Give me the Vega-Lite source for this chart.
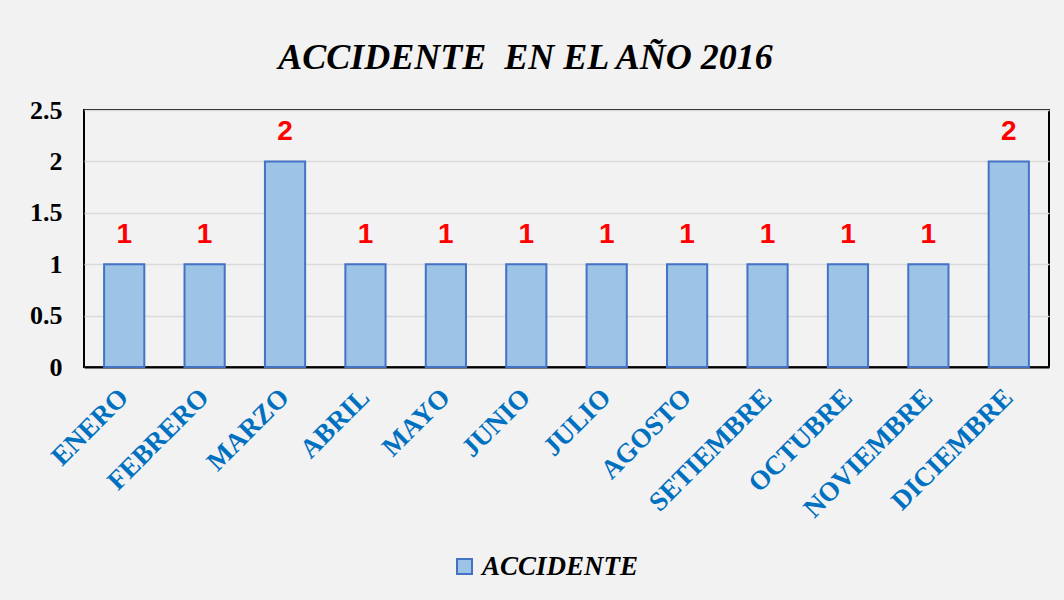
{
  "$schema": "https://vega.github.io/schema/vega-lite/v6.json",
  "width": 965,
  "height": 257,
  "autosize": {"type": "none"},
  "padding": {"left": 84, "top": 110, "right": 15, "bottom": 233},
  "background": "#f2f2f2",
  "title": {
    "text": "ACCIDENTE\u00a0 EN EL AÑO 2016",
    "font": "Liberation Serif",
    "fontSize": 36,
    "fontWeight": "bold",
    "fontStyle": "italic",
    "color": "#000000",
    "anchor": "middle",
    "dx": -41,
    "baseline": "alphabetic",
    "offset": -8
  },
  "data": {
    "values": [
      {"mes": "ENERO", "valor": 1, "serie": "ACCIDENTE"},
      {"mes": "FEBRERO", "valor": 1, "serie": "ACCIDENTE"},
      {"mes": "MARZO", "valor": 2, "serie": "ACCIDENTE"},
      {"mes": "ABRIL", "valor": 1, "serie": "ACCIDENTE"},
      {"mes": "MAYO", "valor": 1, "serie": "ACCIDENTE"},
      {"mes": "JUNIO", "valor": 1, "serie": "ACCIDENTE"},
      {"mes": "JULIO", "valor": 1, "serie": "ACCIDENTE"},
      {"mes": "AGOSTO", "valor": 1, "serie": "ACCIDENTE"},
      {"mes": "SETIEMBRE", "valor": 1, "serie": "ACCIDENTE"},
      {"mes": "OCTUBRE", "valor": 1, "serie": "ACCIDENTE"},
      {"mes": "NOVIEMBRE", "valor": 1, "serie": "ACCIDENTE"},
      {"mes": "DICIEMBRE", "valor": 2, "serie": "ACCIDENTE"}
    ]
  },
  "encoding": {
    "x": {
      "field": "mes",
      "type": "nominal",
      "sort": null,
      "scale": {"paddingInner": 0.5, "paddingOuter": 0.25},
      "axis": {
        "title": null,
        "labelAngle": -45,
        "labelAlign": "right",
        "labelBaseline": "middle",
        "labelFont": "Liberation Serif",
        "labelFontWeight": "bold",
        "labelFontSize": 27,
        "labelColor": "#0070c0",
        "labelPadding": 26,
        "ticks": false,
        "domain": true,
        "domainColor": "#000000",
        "domainWidth": 2
      }
    },
    "y": {
      "field": "valor",
      "type": "quantitative",
      "scale": {"domain": [0, 2.5]},
      "axis": {
        "title": null,
        "values": [0, 0.5, 1, 1.5, 2, 2.5],
        "format": "~g",
        "labelFont": "Liberation Serif",
        "labelFontWeight": "bold",
        "labelFontSize": 26,
        "labelColor": "#000000",
        "labelPadding": 22,
        "ticks": false,
        "domain": false,
        "grid": true,
        "gridColor": "#d9d9d9",
        "gridWidth": 1.5
      }
    }
  },
  "layer": [
    {
      "mark": {"type": "bar", "stroke": "#4472c4", "strokeWidth": 2},
      "encoding": {
        "color": {
          "field": "serie",
          "type": "nominal",
          "scale": {"range": ["#9dc3e6"]},
          "legend": {
            "title": null,
            "orient": "none",
            "legendX": 367,
            "legendY": 443,
            "symbolType": "square",
            "symbolSize": 225,
            "symbolStrokeColor": "#4472c4",
            "symbolStrokeWidth": 2,
            "symbolOpacity": 1,
            "labelFont": "Liberation Serif",
            "labelFontWeight": "bold",
            "labelFontStyle": "italic",
            "labelFontSize": 27,
            "labelColor": "#000000",
            "labelOffset": 4
          }
        }
      }
    },
    {
      "mark": {
        "type": "text",
        "color": "#ff0000",
        "font": "Liberation Sans",
        "fontWeight": "bold",
        "fontSize": 28,
        "baseline": "alphabetic",
        "dy": -21
      },
      "encoding": {"text": {"field": "valor", "type": "quantitative"}}
    }
  ],
  "config": {
    "view": {"stroke": "#000000", "strokeWidth": 2}
  }
}
